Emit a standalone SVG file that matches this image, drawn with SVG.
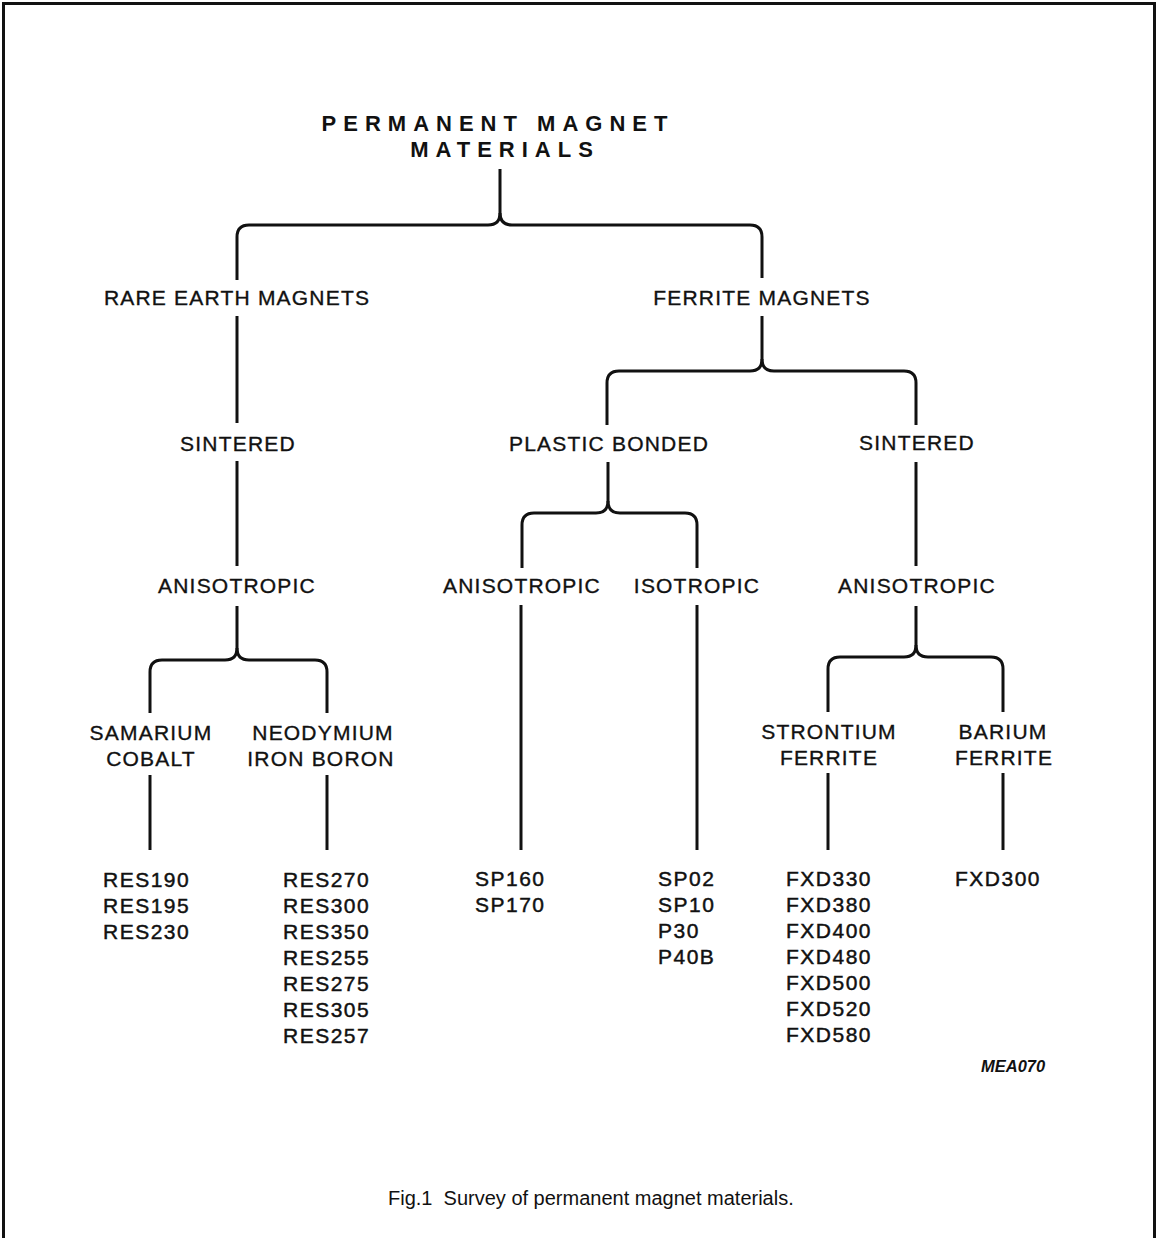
<svg xmlns="http://www.w3.org/2000/svg" width="1157" height="1238" viewBox="0 0 1157 1238">
<style>
.lbl{font-family:"Liberation Sans",Arial,sans-serif;font-size:21px;letter-spacing:1.2px;fill:#111;stroke:#111;stroke-width:0.35;text-anchor:middle}
.lst{font-family:"Liberation Sans",Arial,sans-serif;font-size:21px;letter-spacing:1.5px;fill:#111;stroke:#111;stroke-width:0.45}
.ttl{font-family:"Liberation Sans",Arial,sans-serif;font-size:22px;font-weight:bold;letter-spacing:7px;fill:#111;text-anchor:middle}
.ln{fill:none;stroke:#111;stroke-width:3;stroke-linecap:butt;stroke-linejoin:round}
</style>
<rect x="0" y="0" width="1157" height="1238" fill="#fff"/>
<rect x="3.5" y="3.5" width="1151" height="1250" fill="none" stroke="#111" stroke-width="3"/>

<g id="connectors" class="ln">
  <path d="M500,169 V213 Q500,225 488,225 H249 Q237,225 237,237 V280"/>
  <path d="M500,213 Q500,225 512,225 H750 Q762,225 762,237 V278"/>
  <path d="M237,316 V423"/>
  <path d="M237,461 V566"/>
  <path d="M237,606 V648 Q237,660 225,660 H162 Q150,660 150,672 V713"/>
  <path d="M237,648 Q237,660 249,660 H315 Q327,660 327,672 V713"/>
  <path d="M150,775 V850"/>
  <path d="M327,775 V850"/>
  <path d="M762,316 V359 Q762,371 750,371 H619 Q607,371 607,383 V425"/>
  <path d="M762,359 Q762,371 774,371 H904 Q916,371 916,383 V425"/>
  <path d="M608,462 V501 Q608,513 596,513 H534 Q522,513 522,525 V568"/>
  <path d="M608,501 Q608,513 620,513 H685 Q697,513 697,525 V568"/>
  <path d="M521,605 V850"/>
  <path d="M697,605 V850"/>
  <path d="M916,462 V566"/>
  <path d="M916,606 V645 Q916,657 904,657 H840 Q828,657 828,669 V712"/>
  <path d="M916,645 Q916,657 928,657 H991 Q1003,657 1003,669 V712"/>
  <path d="M828,773 V850"/>
  <path d="M1003,773 V850"/>
</g>

<g id="root"><text class="ttl" x="498" y="131">PERMANENT MAGNET</text><text class="ttl" x="505" y="157">MATERIALS</text></g>
<g id="rare-earth"><text class="lbl" x="237" y="305">RARE EARTH MAGNETS</text></g>
<g id="ferrite"><text class="lbl" x="762" y="305">FERRITE MAGNETS</text></g>
<g id="re-sintered"><text class="lbl" x="238" y="451">SINTERED</text></g>
<g id="plastic-bonded"><text class="lbl" x="609" y="451">PLASTIC BONDED</text></g>
<g id="fe-sintered"><text class="lbl" x="917" y="450">SINTERED</text></g>
<g id="re-aniso"><text class="lbl" x="237" y="593">ANISOTROPIC</text></g>
<g id="pb-aniso"><text class="lbl" x="522" y="593">ANISOTROPIC</text></g>
<g id="pb-iso"><text class="lbl" x="697" y="593">ISOTROPIC</text></g>
<g id="fe-aniso"><text class="lbl" x="917" y="593">ANISOTROPIC</text></g>
<g id="samarium"><text class="lbl" x="151" y="740">SAMARIUM</text><text class="lbl" x="151" y="766">COBALT</text></g>
<g id="neodymium"><text class="lbl" x="323" y="740">NEODYMIUM</text><text class="lbl" x="321" y="766">IRON BORON</text></g>
<g id="strontium"><text class="lbl" x="829" y="739">STRONTIUM</text><text class="lbl" x="829" y="765">FERRITE</text></g>
<g id="barium"><text class="lbl" x="1003" y="739">BARIUM</text><text class="lbl" x="1004" y="765">FERRITE</text></g>

<g id="list-sm" class="lst"><text x="103" y="887">RES190</text><text x="103" y="913">RES195</text><text x="103" y="939">RES230</text></g>
<g id="list-nd" class="lst"><text x="283" y="887">RES270</text><text x="283" y="913">RES300</text><text x="283" y="939">RES350</text><text x="283" y="965">RES255</text><text x="283" y="991">RES275</text><text x="283" y="1017">RES305</text><text x="283" y="1043">RES257</text></g>
<g id="list-pba" class="lst"><text x="475" y="886">SP160</text><text x="475" y="912">SP170</text></g>
<g id="list-pbi" class="lst"><text x="658" y="886">SP02</text><text x="658" y="912">SP10</text><text x="658" y="938">P30</text><text x="658" y="964">P40B</text></g>
<g id="list-sr" class="lst"><text x="786" y="886">FXD330</text><text x="786" y="912">FXD380</text><text x="786" y="938">FXD400</text><text x="786" y="964">FXD480</text><text x="786" y="990">FXD500</text><text x="786" y="1016">FXD520</text><text x="786" y="1042">FXD580</text></g>
<g id="list-ba" class="lst"><text x="955" y="886">FXD300</text></g>

<text x="981" y="1072" font-family="'Liberation Sans',Arial,sans-serif" font-size="16.5" font-weight="bold" font-style="italic" fill="#111">MEA070</text>
<text x="388" y="1205" xml:space="preserve" font-family="'Liberation Sans',Arial,sans-serif" font-size="20" fill="#111">Fig.1  Survey of permanent magnet materials.</text>
</svg>
